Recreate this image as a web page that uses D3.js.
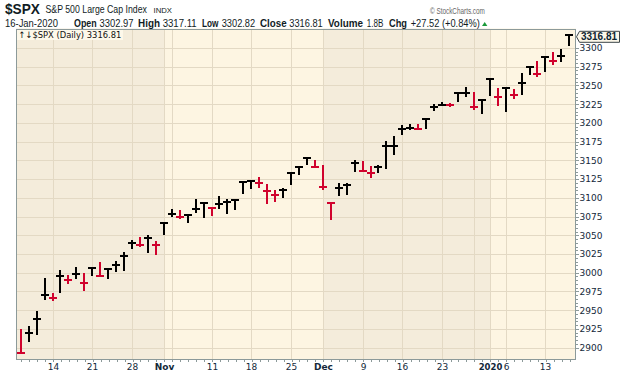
<!DOCTYPE html>
<html>
<head>
<meta charset="utf-8">
<script src="https://cdn.jsdelivr.net/npm/d3@7"></script>
<style>
  body { margin: 0; background: #fff; }
  svg { display: block; }
</style>
</head>
<body>
<div id="container"></div>
<script>
const width = 620,
  height = 376,
  plot = { left: 16, right: 576, top: 28.5, bottom: 360 };

/* DATA */
const dates = [
  "2019-10-08","2019-10-09","2019-10-10","2019-10-11","2019-10-14","2019-10-15","2019-10-16","2019-10-17","2019-10-18",
  "2019-10-21","2019-10-22","2019-10-23","2019-10-24","2019-10-25","2019-10-28","2019-10-29","2019-10-30","2019-10-31",
  "2019-11-01","2019-11-04","2019-11-05","2019-11-06","2019-11-07","2019-11-08","2019-11-11","2019-11-12","2019-11-13",
  "2019-11-14","2019-11-15","2019-11-18","2019-11-19","2019-11-20","2019-11-21","2019-11-22","2019-11-25","2019-11-26",
  "2019-11-27","2019-11-29","2019-12-02","2019-12-03","2019-12-04","2019-12-05","2019-12-06","2019-12-09","2019-12-10",
  "2019-12-11","2019-12-12","2019-12-13","2019-12-16","2019-12-17","2019-12-18","2019-12-19","2019-12-20","2019-12-23",
  "2019-12-24","2019-12-26","2019-12-27","2019-12-30","2019-12-31","2020-01-02","2020-01-03","2020-01-06","2020-01-07",
  "2020-01-08","2020-01-09","2020-01-10","2020-01-13","2020-01-14","2020-01-15","2020-01-16"
];
const highs = [
  2925.47, 2929.32, 2948.46, 2993.28, 2972.84, 3003.28, 2997.54, 3008.29, 3000.00,
  3007.33, 3014.57, 3004.78, 3016.07, 3027.39, 3044.08, 3047.87, 3050.10, 3042.00,
  3066.95, 3085.20, 3083.95, 3078.34, 3097.77, 3093.09, 3088.33, 3102.61, 3098.06,
  3098.20, 3120.46, 3124.17, 3127.64, 3118.97, 3110.11, 3112.87, 3133.83, 3142.69,
  3154.26, 3150.30, 3144.31, 3094.97, 3119.38, 3119.45, 3150.60, 3148.87, 3142.12,
  3143.98, 3176.28, 3182.68, 3197.71, 3198.22, 3198.48, 3205.48, 3225.65, 3227.78,
  3226.43, 3240.08, 3247.93, 3240.92, 3231.72, 3258.14, 3246.15, 3246.84, 3244.91,
  3267.07, 3275.58, 3282.99, 3288.13, 3294.25, 3298.66, 3317.11
];
const lows = [
  2892.66, 2907.41, 2917.12, 2963.07, 2962.94, 2973.61, 2985.20, 2991.79, 2976.31,
  2995.35, 2995.04, 2991.21, 3000.42, 3001.94, 3032.12, 3034.81, 3025.96, 3023.19,
  3050.72, 3074.87, 3072.15, 3065.89, 3080.23, 3073.58, 3075.82, 3084.73, 3078.80,
  3083.26, 3104.60, 3112.06, 3113.47, 3091.41, 3094.55, 3099.26, 3117.44, 3131.00,
  3143.41, 3139.34, 3110.78, 3070.33, 3102.53, 3103.76, 3134.62, 3135.46, 3126.09,
  3133.21, 3138.47, 3156.51, 3183.63, 3191.03, 3191.14, 3192.32, 3216.03, 3222.30,
  3220.51, 3227.20, 3234.37, 3216.57, 3212.03, 3235.53, 3222.34, 3214.64, 3232.43,
  3236.67, 3263.67, 3260.86, 3268.43, 3277.19, 3280.69, 3302.82
];
const closes = [
  2893.06, 2919.40, 2938.13, 2970.27, 2966.15, 2995.68, 2989.69, 2997.95, 2986.20,
  3006.72, 2995.99, 3004.52, 3010.29, 3022.55, 3039.42, 3036.89, 3046.77, 3037.56,
  3066.91, 3078.27, 3074.62, 3076.78, 3085.18, 3093.08, 3087.01, 3091.84, 3094.04,
  3096.63, 3120.46, 3122.03, 3120.18, 3108.46, 3103.54, 3110.29, 3133.64, 3140.52,
  3153.63, 3140.98, 3113.87, 3093.20, 3112.76, 3117.43, 3145.91, 3135.96, 3132.52,
  3141.63, 3168.57, 3168.80, 3191.45, 3192.52, 3191.14, 3205.37, 3221.22, 3224.01,
  3223.38, 3239.91, 3240.02, 3221.29, 3230.78, 3257.85, 3234.85, 3246.28, 3237.18,
  3253.05, 3274.70, 3265.35, 3288.13, 3283.15, 3289.29, 3316.81
];
const prevClose = 2938.79; // close before first bar, sets its colour

const xTickDates = ["2019-10-14","2019-10-21","2019-10-28","2019-11-01","2019-11-11","2019-11-18","2019-11-25",
  "2019-12-02","2019-12-09","2019-12-16","2019-12-23","2020-01-02","2020-01-06","2020-01-13"];
const xTickLabels = ["14","21","28","Nov","11","18","25","Dec","9","16","23","2020","6","13"];
const yTicks = [2900, 2925, 2950, 2975, 3000, 3025, 3050, 3075, 3100, 3125, 3150, 3175, 3200, 3225, 3250, 3275, 3300];

const quote = { date: "16-Jan-2020", open: "3302.97", high: "3317.11", low: "3302.82", close: "3316.81",
  volume: "1.8B", chg: "+27.52 (+0.84%)" };

const colors = { up: "#000000", down: "#d0022d", darkBg: "#f4ecdb", lightBg: "#fdf5e2",
  grid: "#e3d9c4", axis: "#8c9a9a", text: "#13283a" };

/* SCALES */
const xScale = d3.scalePoint().domain(dates).range([20.7, 569.3]);
const yScale = d3.scaleLinear().domain([2900, 3300]).range([347.7, 47.9]);

const svg = d3.select("#container").append("svg")
  .attr("width", width)
  .attr("height", height)
  .style("font-family", "'DejaVu Sans', sans-serif");

const crisp = v => Math.round(v) + 0.5;

// squeeze a text to a target width (keeps its box honest, unlike textLength)
const fitWidth = (sel, x, len) => {
  const w = sel.node().getComputedTextLength();
  if (w > 0) sel.attr("transform", `translate(${x},0) scale(${len / w},1) translate(${-x},0)`);
  return sel;
};

// + MONTH SHADING (alternating)
const monthStarts = dates.filter((d, i) => i > 0 && d.slice(0, 7) !== dates[i - 1].slice(0, 7));
const bounds = [plot.left, ...monthStarts.map(d => Math.round(xScale(d))), plot.right];
svg.append("g").selectAll("rect")
  .data(d3.pairs(bounds))
  .join("rect")
  .attr("x", d => d[0])
  .attr("y", plot.top)
  .attr("width", d => d[1] - d[0])
  .attr("height", plot.bottom - plot.top)
  .attr("fill", (d, i) => i % 2 === 0 ? colors.darkBg : colors.lightBg);

// + GRIDLINES
const dow = d => new Date(d + "T12:00:00").getDay();
const gridDates = dates.filter((d, i) => i > 0 && (dow(d) < dow(dates[i - 1]) || monthStarts.includes(d)));
const grid = svg.append("g").attr("stroke", colors.grid).attr("stroke-width", 1).attr("shape-rendering", "crispEdges");
grid.selectAll(".hg")
  .data(yTicks)
  .join("line")
  .attr("class", "hg")
  .attr("x1", plot.left).attr("x2", plot.right)
  .attr("y1", d => crisp(yScale(d))).attr("y2", d => crisp(yScale(d)));
grid.selectAll(".vg")
  .data(gridDates)
  .join("line")
  .attr("class", "vg")
  .attr("x1", d => crisp(xScale(d))).attr("x2", d => crisp(xScale(d)))
  .attr("y1", plot.top).attr("y2", plot.bottom);

// + LEGEND BOX
svg.append("rect")
  .attr("x", plot.left + 1).attr("y", plot.top + 1)
  .attr("width", 106).attr("height", 10.5)
  .attr("fill", "#fdf8ea");
fitWidth(svg.append("text")
  .attr("x", plot.left + 2.5).attr("y", 38.3)
  .attr("font-size", 9)
  .attr("fill", "#111")
  .text(`↑↓$SPX (Daily) ${quote.close}`), plot.left + 2.5, 103);

// + HLC BARS
const bars = svg.append("g").attr("shape-rendering", "crispEdges");
const barData = dates.map((d, i) => ({
  date: d, high: highs[i], low: lows[i], close: closes[i],
  up: closes[i] >= (i === 0 ? prevClose : closes[i - 1])
}));
bars.selectAll(".stem")
  .data(barData)
  .join("rect")
  .attr("class", "stem")
  .attr("x", d => Math.round(xScale(d.date)) - 1)
  .attr("y", d => Math.round(yScale(d.high)))
  .attr("width", 2)
  .attr("height", d => Math.max(2, Math.round(yScale(d.low)) - Math.round(yScale(d.high))))
  .attr("fill", d => d.up ? colors.up : colors.down);
bars.selectAll(".tick")
  .data(barData)
  .join("rect")
  .attr("class", "tick")
  .attr("x", d => Math.round(xScale(d.date)) - 4)
  .attr("y", d => Math.round(yScale(d.close)) - 1)
  .attr("width", 8)
  .attr("height", 2)
  .attr("fill", d => d.up ? colors.up : colors.down);

// + FRAME
svg.append("rect")
  .attr("x", plot.left + 0.5).attr("y", plot.top + 0.5)
  .attr("width", plot.right - plot.left - 1).attr("height", plot.bottom - plot.top - 1)
  .attr("fill", "none")
  .attr("stroke", colors.axis)
  .attr("shape-rendering", "crispEdges");

// + Y AXIS (right)
const yAxis = d3.axisRight(yScale).tickValues(yTicks).tickSize(3).tickPadding(1).tickFormat(d3.format("d"));
const yAxisGroup = svg.append("g")
  .attr("transform", `translate(${plot.right - 0.5}, 0)`)
  .call(yAxis);
yAxisGroup.select(".domain").remove();
yAxisGroup.selectAll("line").attr("stroke", colors.axis).attr("shape-rendering", "crispEdges");
yAxisGroup.selectAll("text")
  .attr("font-family", "'DejaVu Sans', sans-serif")
  .attr("font-size", 9)
  .attr("fill", colors.text);
// minor ticks on the price axis
const yMinor = d3.axisRight(yScale).ticks(80).tickSize(2).tickFormat("");
svg.append("g")
  .attr("transform", `translate(${plot.right - 0.5}, 0)`)
  .call(yMinor)
  .call(g => g.select(".domain").remove())
  .selectAll("line").attr("stroke", colors.axis).attr("shape-rendering", "crispEdges");

// + X AXIS
const xMinor = d3.axisBottom(xScale).tickSize(2).tickFormat("");
svg.append("g")
  .attr("transform", `translate(0.5, ${plot.bottom - 0.5})`)
  .call(xMinor)
  .call(g => g.select(".domain").remove())
  .selectAll("line").attr("stroke", colors.axis).attr("shape-rendering", "crispEdges");

svg.append("g").selectAll("text")
  .data(xTickDates)
  .join("text")
  .attr("x", d => Math.round(xScale(d)) + 0.5)
  .attr("y", 370)
  .attr("text-anchor", "middle")
  .attr("font-size", (d, i) => xTickLabels[i] === "2020" ? 8.5 : 9)
  .attr("font-weight", (d, i) => /^[A-Z]|^20/.test(xTickLabels[i]) ? "bold" : "normal")
  .attr("fill", colors.text)
  .text((d, i) => xTickLabels[i]);

// + LAST PRICE TAG
const tagY = yScale(closes[closes.length - 1]) + 1.5;
svg.append("path")
  .attr("d", `M${plot.right + 0.5},${tagY} L${plot.right + 3.5},${tagY - 5.5} H619.5 V${tagY + 5.5} H${plot.right + 3.5} Z`)
  .attr("fill", "#fdf8ea")
  .attr("stroke", "#3a4448");
svg.append("text")
  .attr("x", 599).attr("y", tagY + 3.6)
  .attr("text-anchor", "middle")
  .attr("font-family", "'Liberation Sans', Arial, sans-serif")
  .attr("font-weight", "bold")
  .attr("font-size", 10)
  .attr("fill", "#0d2533")
  .text(quote.close);

// + HEADER
const head = svg.append("g").attr("font-family", "'Liberation Sans', Arial, sans-serif").attr("fill", "#111c24");
const put = (txt, x, y, size, weight, len, fill) => fitWidth(head.append("text")
  .attr("x", x).attr("y", y)
  .attr("font-size", size)
  .attr("font-weight", weight)
  .attr("fill", fill || null)
  .text(txt), x, len);

put("$SPX", 5, 14, 14.5, "bold", 35);
put("S&P 500 Large Cap Index", 45.5, 13, 10.5, "normal", 101.5);
put("INDX", 153.5, 12.6, 8, "normal", 18.5);
put("© StockCharts.com", 430, 14, 9, "normal", 55, "#666");

put(quote.date, 5, 27.3, 10, "normal", 53);
put("Open", 74, 27.3, 10, "bold", 22.7);
put(quote.open, 99.5, 27.3, 10, "normal", 34);
put("High", 138, 27.3, 10, "bold", 22);
put(quote.high, 162.7, 27.3, 10, "normal", 34);
put("Low", 202, 27.3, 10, "bold", 16.5);
put(quote.low, 221.7, 27.3, 10, "normal", 33.5);
put("Close", 260, 27.3, 10, "bold", 26.7);
put(quote.close, 289.3, 27.3, 10, "normal", 33.5);
put("Volume", 328, 27.3, 10, "bold", 35);
put(quote.volume, 366.7, 27.3, 10, "normal", 16.6);
put("Chg", 389, 27.3, 10, "bold", 18);
put(quote.chg, 410.7, 27.3, 10, "normal", 69.3);
svg.append("path")
  .attr("d", "M482,26 L484.7,22 L487.4,26 Z")
  .attr("fill", "#1a9a3a");
</script>
</body>
</html>
